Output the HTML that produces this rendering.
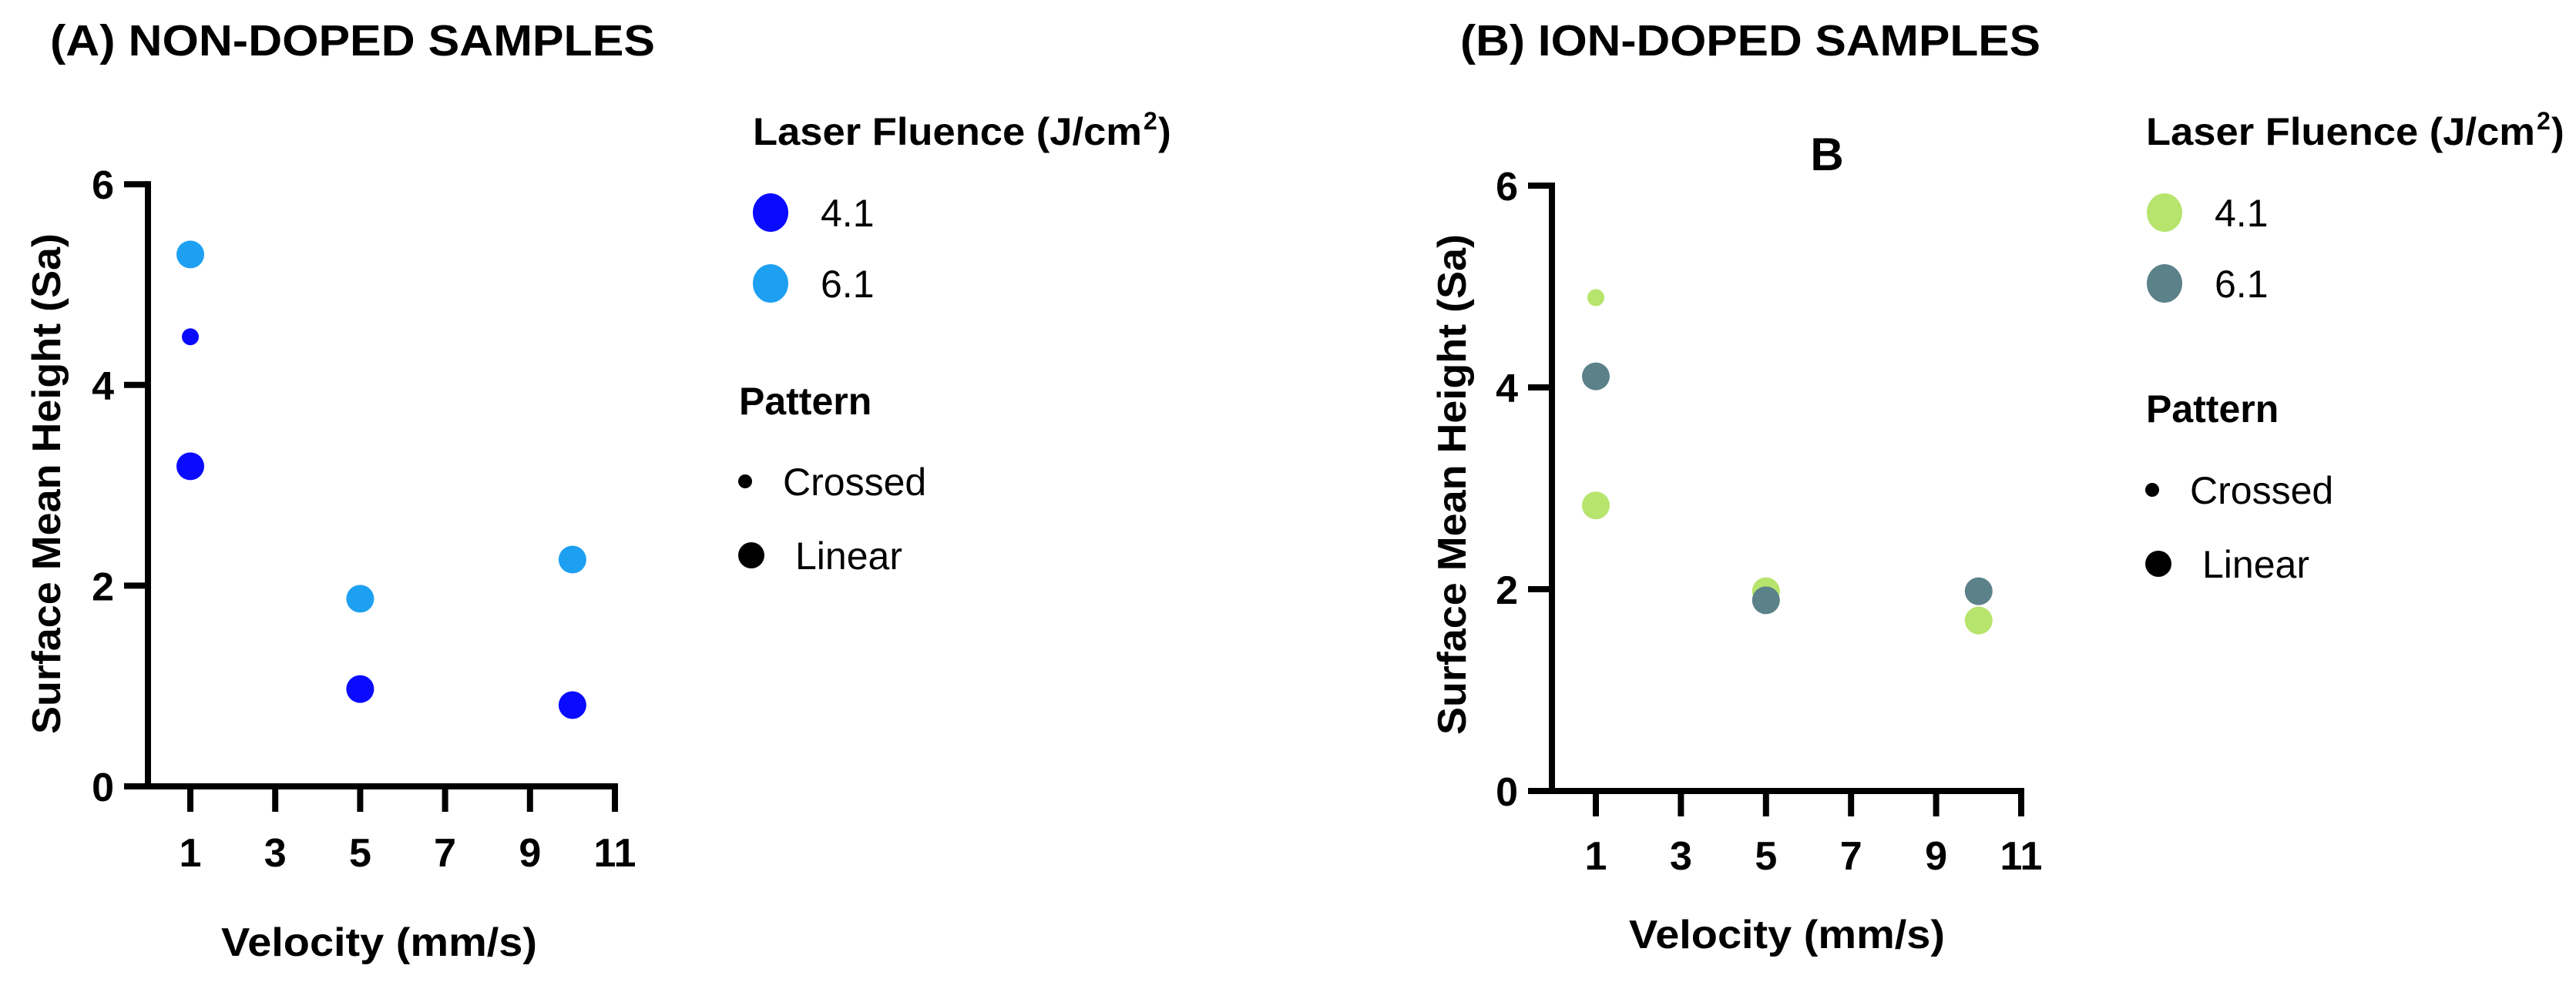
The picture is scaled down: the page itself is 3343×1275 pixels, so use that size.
<!DOCTYPE html>
<html><head><meta charset="utf-8"><style>
html,body{margin:0;padding:0;background:#fff;}
svg{display:block;font-family:"Liberation Sans",sans-serif;}
</style></head><body>
<svg id="chart" width="3343" height="1275" viewBox="0 0 3343 1275" xmlns="http://www.w3.org/2000/svg">
<text x="65" y="72" font-size="57" font-weight="bold" textLength="785" lengthAdjust="spacingAndGlyphs">(A) NON-DOPED SAMPLES</text>
<text x="1895" y="72" font-size="57" font-weight="bold" textLength="753" lengthAdjust="spacingAndGlyphs">(B) ION-DOPED SAMPLES</text>
<text x="2371" y="221" font-size="60" font-weight="bold" text-anchor="middle">B</text>
<g id="panelA"></g>
<g id="panelB"></g>
</svg>
<script>
const xTicks = [1, 3, 5, 7, 9, 11];
const yTicks = [0, 2, 4, 6];
const fluenceLabels = ["4.1", "6.1"];
const patternLabels = ["Crossed", "Linear"];
// Panel A series
const aVel = [1, 1, 1, 5, 5, 10, 10];
const aSa = [5.30, 4.48, 3.19, 1.87, 0.97, 2.26, 0.81];
const aFluence = [1, 0, 0, 1, 0, 1, 0];
const aPattern = [1, 0, 1, 1, 1, 1, 1];
// Panel B series
const bVel = [1, 1, 1, 5, 5, 10, 10];
const bSa = [4.89, 4.11, 2.83, 1.98, 1.89, 1.98, 1.69];
const bFluence = [0, 1, 0, 0, 1, 1, 0];
const bPattern = [0, 1, 1, 1, 1, 1, 1];

const NS = "http://www.w3.org/2000/svg";
function mk(parent, tag, attrs, text) {
  const e = document.createElementNS(NS, tag);
  for (const k in attrs) e.setAttribute(k, attrs[k]);
  if (text !== undefined) e.textContent = text;
  parent.appendChild(e);
  return e;
}

function drawPanel(g, cfg, vel, sa, flu, pat, colors) {
  const sx = v => cfg.x1 + (v - 1) * cfg.ux;
  const sy = v => cfg.y0 - v * cfg.uy;
  const ya = mk(g, "line", {x1: cfg.ax, y1: sy(6) - 4, x2: cfg.ax, y2: sy(0) + 4, stroke: "#000", "stroke-width": 8});
  
  
  const xa = mk(g, "line", {x1: cfg.ax - 31, y1: sy(0), x2: sx(11) + 4, y2: sy(0), stroke: "#000", "stroke-width": 8});
  
  
  yTicks.forEach(t => {
    const tl = mk(g, "line", {x1: cfg.ax - 31, y1: sy(t), x2: cfg.ax, y2: sy(t), stroke: "#000", "stroke-width": 8});
    
    
    const tx = mk(g, "text", {x: cfg.ax - 44, y: sy(t) + 19, "font-size": 52, "font-weight": "bold", "text-anchor": "end"}, String(t));
    
    
  });
  xTicks.forEach(t => {
    const tl = mk(g, "line", {x1: sx(t), y1: sy(0), x2: sx(t), y2: sy(0) + 33, stroke: "#000", "stroke-width": 8});
    
    
    const tx = mk(g, "text", {x: sx(t), y: cfg.tickLabelY, "font-size": 52, "font-weight": "bold", "text-anchor": "middle"}, String(t));
    
    
  });
  const xt = mk(g, "text", {x: cfg.xTitleX, y: cfg.xTitleY, "font-size": 52, "font-weight": "bold", "text-anchor": "middle", textLength: 410, lengthAdjust: "spacingAndGlyphs"}, "Velocity (mm/s)");
  
  
  const yt = mk(g, "text", {x: 0, y: 0, "font-size": 52, "font-weight": "bold", "text-anchor": "middle", textLength: 650, lengthAdjust: "spacingAndGlyphs", transform: `translate(${cfg.yTitleX},${cfg.yTitleY}) rotate(-90)`}, "Surface Mean Height (Sa)");
  
  
  for (let i = 0; i < vel.length; i++) {
    const c = mk(g, "circle", {cx: sx(vel[i]), cy: sy(sa[i]), r: pat[i] ? 18 : 11, fill: colors[flu[i]]});
    
    
  }
  const L = cfg.leg;
  const lt = mk(g, "text", {x: L.x, y: 188, "font-size": 50, "font-weight": "bold", textLength: 505, lengthAdjust: "spacingAndGlyphs"}, "Laser Fluence (J/cm");
  
  
  const sup = mk(g, "text", {x: L.x + 507, y: 168, "font-size": 32, "font-weight": "bold"}, "2");
  
  
  const par = mk(g, "text", {x: L.x + 526, y: 188, "font-size": 50, "font-weight": "bold"}, ")");
  
  
  fluenceLabels.forEach((lab, i) => {
    const y = 276 + i * 92;
    const d = mk(g, "ellipse", {cx: L.dotX, cy: y, rx: 23, ry: 25, fill: colors[i]});
    
    
    const t = mk(g, "text", {x: L.textX, y: y + 18, "font-size": 50}, lab);
    
    
  });
  const pt = mk(g, "text", {x: L.px, y: L.py + 18, "font-size": 50, "font-weight": "bold"}, "Pattern");
  
  
  patternLabels.forEach((lab, i) => {
    const y = L.cy + i * 96;
    const d = mk(g, "circle", {cx: L.cdx + i * 8, cy: y, r: i ? 17 : 9, fill: "#000"});
    
    
    const t = mk(g, "text", {x: L.ctx + i * 16, y: y + 18, "font-size": 50}, lab);
    
    
  });
}

drawPanel(document.getElementById("panelA"),
  {ax: 192, x1: 247, ux: 55.1, y0: 1021, uy: 130.3, tickLabelY: 1125, xTitleX: 492, xTitleY: 1241, yTitleX: 78, yTitleY: 628,
   leg: {x: 977, dotX: 1000, textX: 1065, px: 959, py: 520, cy: 625, cdx: 967, ctx: 1016}},
  aVel, aSa, aFluence, aPattern, ["#0a0aff", "#1ea0f2"]);
drawPanel(document.getElementById("panelB"),
  {ax: 2014, x1: 2071, ux: 55.2, y0: 1027, uy: 131, tickLabelY: 1129, xTitleX: 2319, xTitleY: 1231, yTitleX: 1902, yTitleY: 629,
   leg: {x: 2785, dotX: 2809, textX: 2874, px: 2785, py: 530, cy: 636, cdx: 2793, ctx: 2842}},
  bVel, bSa, bFluence, bPattern, ["#b6e46c", "#5b8189"]);
</script>
</body></html>
